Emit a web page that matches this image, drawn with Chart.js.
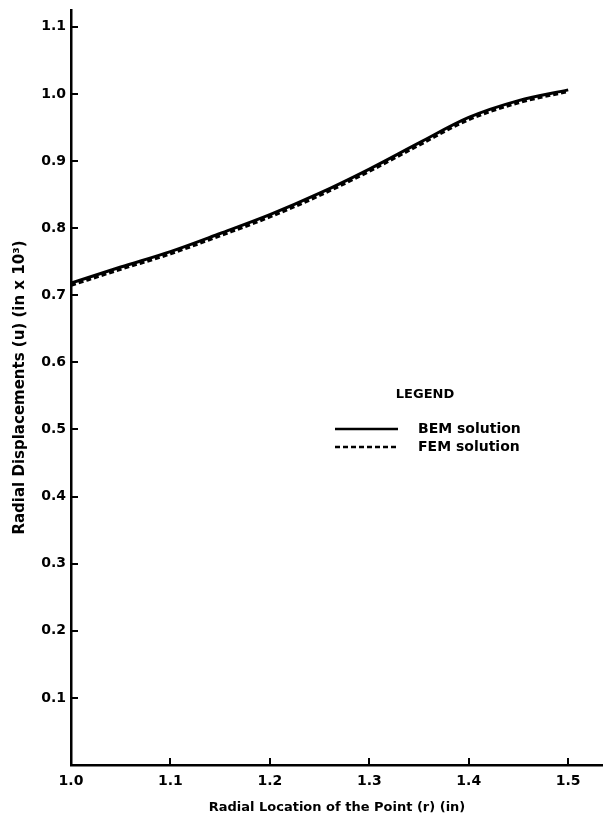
<!DOCTYPE html>
<html>
<head>
<meta charset="utf-8">
<script src="https://cdn.jsdelivr.net/npm/chart.js@4"></script>
<style>
  html, body { margin: 0; padding: 0; background: #fff; }
  #wrap { width: 603px; height: 819px; }
</style>
</head>
<body>
<div id="wrap"><canvas id="c" width="603" height="819"></canvas></div>
<script>
/* radial displacement vs radial location, BEM vs FEM */
const radius = [1.0, 1.05, 1.1, 1.15, 1.2, 1.25, 1.3, 1.35, 1.4, 1.45, 1.5];
const bemValues = [0.718, 0.742, 0.765, 0.792, 0.820, 0.852, 0.888, 0.927, 0.965, 0.990, 1.006];
const femValues = [0.715, 0.739, 0.762, 0.789, 0.817, 0.849, 0.885, 0.924, 0.962, 0.987, 1.004];
const xTicks = [1.0, 1.1, 1.2, 1.3, 1.4, 1.5];
const yTicks = [0.1, 0.2, 0.3, 0.4, 0.5, 0.6, 0.7, 0.8, 0.9, 1.0, 1.1];

const FONT = "'DejaVu Sans', sans-serif";

// ticks drawn inward from the axes, like the original plot
const innerTicks = {
  id: "innerTicks",
  afterDraw(chart) {
    const { ctx, scales } = chart;
    const x = scales.x, y = scales.y;
    ctx.save();
    ctx.strokeStyle = "#000";
    ctx.lineWidth = 2;
    ctx.beginPath();
    yTicks.forEach((v) => {
      const py = Math.round(y.getPixelForValue(v));
      ctx.moveTo(x.left, py);
      ctx.lineTo(x.left + 7, py);
    });
    xTicks.slice(1).forEach((v) => {
      const px = Math.round(x.getPixelForValue(v));
      ctx.moveTo(px, y.bottom);
      ctx.lineTo(px, y.bottom - 7);
    });
    ctx.stroke();
    ctx.restore();
  },
};

// legend block drawn inside the plot area
const legendBlock = {
  id: "legendBlock",
  afterDraw(chart) {
    const { ctx } = chart;
    const sets = chart.data.datasets;
    ctx.save();
    ctx.fillStyle = "#000";
    ctx.strokeStyle = "#000";
    ctx.textBaseline = "middle";
    ctx.font = "bold 13px " + FONT;
    ctx.textAlign = "center";
    ctx.fillText("LEGEND", 425, 395);
    ctx.textAlign = "left";
    ctx.font = "bold 14px " + FONT;
    sets.forEach((ds, i) => {
      const yy = 429 + i * 18;
      ctx.beginPath();
      ctx.lineWidth = 2.5;
      ctx.setLineDash(ds.borderDash || []);
      ctx.moveTo(335, yy);
      ctx.lineTo(398, yy);
      ctx.stroke();
      ctx.setLineDash([]);
      ctx.fillText(ds.label, 418, yy);
    });
    ctx.restore();
  },
};

new Chart(document.getElementById("c"), {
  type: "line",
  data: {
    datasets: [
      {
        label: "BEM solution",
        data: radius.map((r, i) => ({ x: r, y: bemValues[i] })),
        borderColor: "#000",
        borderWidth: 3,
        pointRadius: 0,
        cubicInterpolationMode: "monotone",
      },
      {
        label: "FEM solution",
        data: radius.map((r, i) => ({ x: r, y: femValues[i] })),
        borderColor: "#000",
        borderWidth: 3.5,
        borderDash: [5, 3],
        pointRadius: 0,
        cubicInterpolationMode: "monotone",
      },
    ],
  },
  options: {
    responsive: false,
    animation: false,
    layout: { padding: { top: 10, right: 0, left: 0, bottom: 0 } },
    plugins: { legend: { display: false }, tooltip: { enabled: false } },
    scales: {
      x: {
        type: "linear",
        min: 1.0,
        max: 1.535,
        afterBuildTicks: (s) => (s.ticks = xTicks.map((v) => ({ value: v }))),
        afterFit: (s) => {
          s.height = 54;
          s.paddingLeft = 0;
          s.paddingRight = 0;
        },
        grid: { display: false, drawTicks: false },
        border: { display: true, color: "#000", width: 2.5 },
        ticks: {
          color: "#000",
          font: { family: FONT, size: 14, weight: "bold" },
          padding: 8,
          maxRotation: 0,
          callback: (v) => Number(v).toFixed(1),
        },
        title: {
          display: true,
          text: "Radial Location of the Point (r) (in)",
          color: "#000",
          font: { family: FONT, size: 13, weight: "bold" },
          padding: { top: 4, bottom: 4 },
        },
      },
      y: {
        type: "linear",
        min: 0,
        max: 1.125,
        afterBuildTicks: (s) => (s.ticks = yTicks.map((v) => ({ value: v }))),
        afterFit: (s) => {
          s.width = 71;
          s.paddingTop = 0;
          s.paddingBottom = 0;
        },
        grid: { display: false, drawTicks: false },
        border: { display: true, color: "#000", width: 2.5 },
        ticks: {
          color: "#000",
          font: { family: FONT, size: 14, weight: "bold" },
          padding: 5,
          callback: (v) => Number(v).toFixed(1),
        },
        title: {
          display: true,
          text: "Radial Displacements (u) (in x 10\u00B3)",
          color: "#000",
          font: { family: FONT, size: 15, weight: "bold" },
          padding: { top: 11, bottom: 0 },
        },
      },
    },
  },
  plugins: [innerTicks, legendBlock],
});
</script>
</body>
</html>
